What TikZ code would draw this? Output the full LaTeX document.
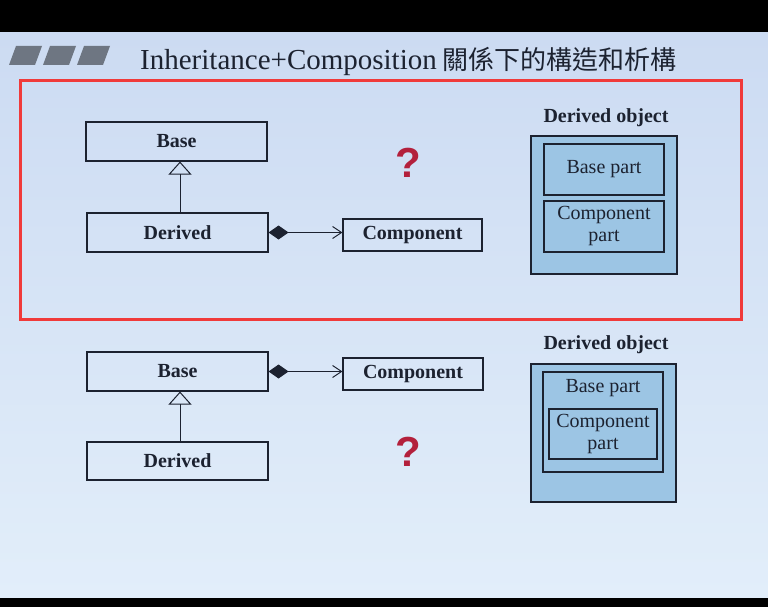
\documentclass[tikz,border=0pt]{standalone}
\usepackage{fontspec}
\setmainfont{Liberation Serif}
\newfontfamily\cjk{Noto Sans CJK TC}
\newfontfamily\qfont{Liberation Sans}
\usetikzlibrary{arrows.meta}
\definecolor{slidetop}{HTML}{CCDBF2}
\definecolor{slidebot}{HTML}{E2EEFA}
\definecolor{objfill}{HTML}{9CC5E4}
\definecolor{ink}{HTML}{1C2230}
\definecolor{framered}{HTML}{F03A3A}
\definecolor{qred}{HTML}{B3203C}
\definecolor{tabgray}{HTML}{6E7682}
\tikzset{
  umlbox/.style={draw=ink, line width=1.1pt, inner sep=0pt, text=ink,
    font=\fontsize{20}{22}\selectfont\bfseries},
  objbox/.style={draw=ink, fill=objfill, line width=1.2pt, inner sep=0pt, text=ink,
    align=center, font=\fontsize{20}{22}\selectfont},
  objtitle/.style={text=ink, inner sep=0pt, font=\fontsize{20}{22}\selectfont\bfseries},
  qmark/.style={text=qred, inner sep=0pt, font=\qfont\bfseries\fontsize{42}{42}\selectfont},
  inherit/.style={draw=ink, line width=1pt, -{Triangle[open,length=13pt,width=23pt,line width=1pt]}},
  compose/.style={draw=ink, line width=1pt, {Diamond[length=20pt,width=14pt]}-{Straight Barb[length=9pt,width=12pt,line width=1pt]}},
  tab/.style={fill=tabgray}
}
\begin{document}
\begin{tikzpicture}[x=1pt,y=-1pt]
\useasboundingbox (0,0) rectangle (768,607);
\fill[black] (0,0) rectangle (768,607);
\shade[top color=slidetop, bottom color=slidebot] (0,33) rectangle (768,597);
% title tabs
\fill[tab] (9,65) -- (35,65) -- (42,46) -- (16,46) -- cycle;
\fill[tab] (43,65) -- (69,65) -- (76,46) -- (50,46) -- cycle;
\fill[tab] (77,65) -- (103,65) -- (110,46) -- (84,46) -- cycle;
\node[anchor=base west, inner sep=0pt, text=ink, font=\fontsize{29}{30}\selectfont] (title) at (140,70)
  {Inheritance+Composition\hspace{6pt}{\cjk\fontsize{26}{30}\selectfont 關係下的構造和析構}};
% red frame
\draw[framered, line width=3pt] (20,81) rectangle (741,319);

% ---- top diagram ----
\node[umlbox, minimum width=181pt, minimum height=39pt] (base1) at (176.5,141.5) {Base};
\node[umlbox, minimum width=181pt, minimum height=39pt] (der1) at (177.5,232.5) {Derived};
\node[umlbox, minimum width=139pt, minimum height=32pt] (comp1) at (412.5,235) {Component};
\draw[inherit] (der1.north -| 180,0) -- (base1.south -| 180,0);
\draw[compose] (der1.east) -- (der1.east -| comp1.west);
\node[qmark] (q1) at (408,163) {?};
\node[objtitle] (dobj1) at (606,118) {Derived object};
\node[objbox, minimum width=146pt, minimum height=138pt] (outer1) at (604,205) {};
\node[objbox, minimum width=120pt, minimum height=51pt] (bpart1) at (604,169.5) {Base part};
\node[objbox, minimum width=120pt, minimum height=51pt] (cpart1) at (604,226.5) {Component\\part};

% ---- bottom diagram ----
\node[umlbox, minimum width=181pt, minimum height=39pt] (base2) at (177.5,371.5) {Base};
\node[umlbox, minimum width=181pt, minimum height=38pt] (der2) at (177.5,461) {Derived};
\node[umlbox, minimum width=140pt, minimum height=32pt] (comp2) at (413,374) {Component};
\draw[inherit] (der2.north -| 180,0) -- (base2.south -| 180,0);
\draw[compose] (base2.east) -- (base2.east -| comp2.west);
\node[qmark] (q2) at (408,452) {?};
\node[objtitle] (dobj2) at (606,345) {Derived object};
\node[objbox, minimum width=145pt, minimum height=138pt] (outer2) at (603.5,433) {};
\node[objbox, minimum width=120pt, minimum height=100pt] (bpart2) at (603,422) {};
\node[text=ink, inner sep=0pt, font=\fontsize{20}{22}\selectfont] (bplabel2) at (603,388) {Base part};
\node[objbox, minimum width=108pt, minimum height=50pt] (cpart2) at (603,434) {Component\\part};
\end{tikzpicture}
\end{document}
